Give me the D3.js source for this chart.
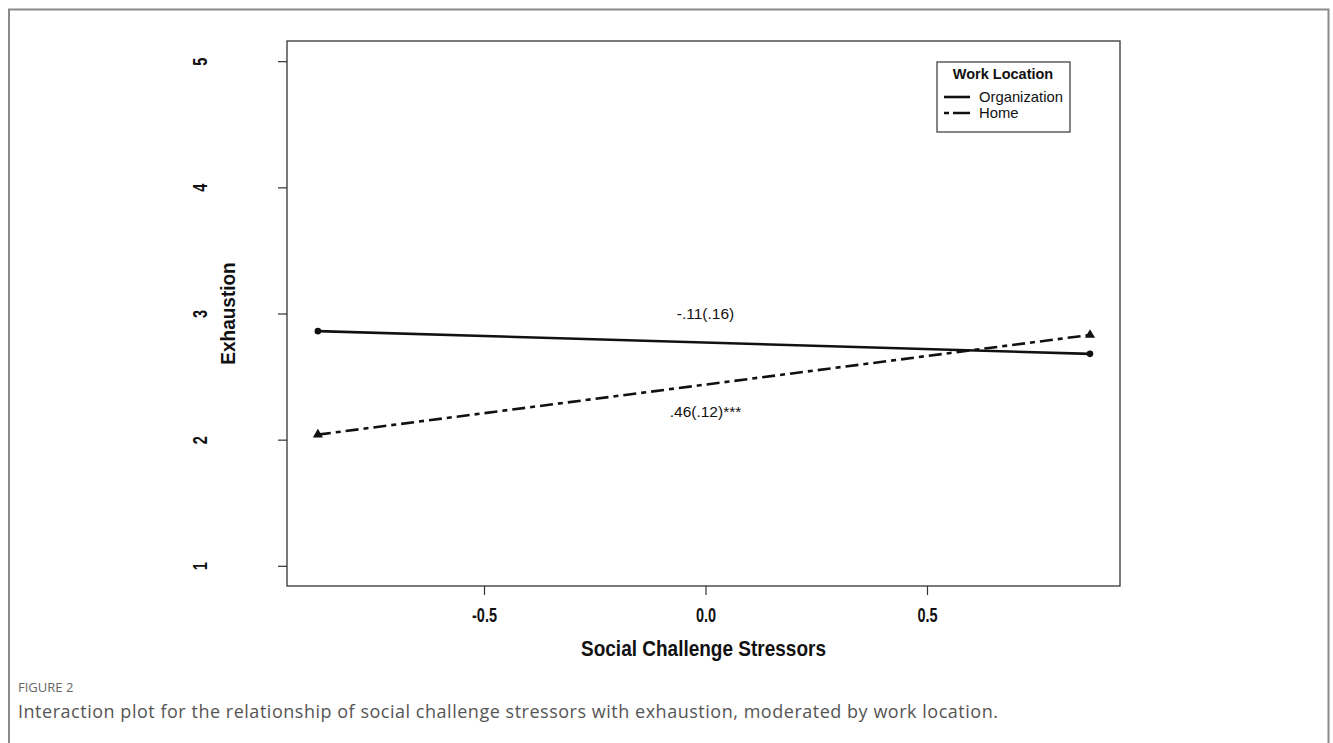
<!DOCTYPE html>
<html>
<head>
<meta charset="utf-8">
<script src="https://cdn.jsdelivr.net/npm/d3@7"></script>
<style>
  body { margin: 0; background: #fff; }
  svg { display: block; }
</style>
</head>
<body>
<svg id="chart" width="1333" height="743"></svg>
<script>
// data
var groups = ["Organization", "Home"];
var stressorLevels = [-0.875, 0.868];
var orgValues = [2.86, 2.68];
var homeValues = [2.04, 2.83];
var slopeLabels = ["-.11(.16)", ".46(.12)***"];
var xTicks = [-0.5, 0.0, 0.5];
var xTickLabels = ["-0.5", "0.0", "0.5"];
var yTicks = [1, 2, 3, 4, 5];

var svg = d3.select("#chart");
var font = "'Liberation Sans', Arial, sans-serif";
var capFont = "'Open Sans', 'Noto Sans', sans-serif";

// outer figure frame
svg.append("path")
    .attr("d", "M9,743 L9,9.5 L1328.5,9.5 L1328.5,743")
    .attr("fill", "none")
    .attr("stroke", "#8a8a8a")
    .attr("stroke-width", 2);

var box = { left: 287, right: 1120, top: 41, bottom: 586 };

var x = d3.scaleLinear()
    .domain([-0.9447, 0.9357])
    .range([box.left, box.right]);

var y = d3.scaleLinear()
    .domain([0.84, 5.16])
    .range([box.bottom, box.top]);

// plot box
svg.append("rect")
    .attr("x", box.left).attr("y", box.top)
    .attr("width", box.right - box.left)
    .attr("height", box.bottom - box.top)
    .attr("fill", "none")
    .attr("stroke", "#333")
    .attr("stroke-width", 1.3);

// x axis (the source image is a bit stretched vertically, so labels get a taller scale)
var xAxis = svg.append("g")
    .attr("transform", "translate(0," + box.bottom + ")")
    .call(d3.axisBottom(x).tickValues(xTicks)
        .tickFormat(function (d, i) { return xTickLabels[i]; })
        .tickSize(9));
xAxis.select(".domain").remove();
xAxis.selectAll("line").attr("stroke", "#333").attr("stroke-width", 1.2);
xAxis.selectAll("text")
    .attr("y", null).attr("dy", null)
    .attr("transform", "translate(0,36) scale(1,1.35)")
    .attr("font-family", font)
    .attr("font-size", 14.5)
    .attr("font-weight", "bold")
    .attr("fill", "#111");

// y axis
var yAxis = svg.append("g")
    .attr("transform", "translate(" + box.left + ",0)")
    .call(d3.axisLeft(y).tickValues(yTicks).tickFormat(d3.format("d")).tickSize(9));
yAxis.select(".domain").remove();
yAxis.selectAll("line").attr("stroke", "#333").attr("stroke-width", 1.2);
yAxis.selectAll("text")
    .attr("x", null).attr("dy", null)
    .attr("transform", "translate(-80,0) rotate(-90) scale(1,1.35)")
    .attr("text-anchor", "middle")
    .attr("dominant-baseline", "auto")
    .attr("font-family", font)
    .attr("font-size", 14.5)
    .attr("font-weight", "bold")
    .attr("fill", "#111");

// axis titles
svg.append("text")
    .attr("transform", "translate(" + (box.left + box.right) / 2 + ",656) scale(1,1.15)")
    .attr("text-anchor", "middle")
    .attr("font-family", font)
    .attr("font-size", 19)
    .attr("font-weight", "bold")
    .attr("fill", "#111")
    .text("Social Challenge Stressors");

svg.append("text")
    .attr("transform", "translate(235," + y(3) + ") rotate(-90) scale(1,1.1)")
    .attr("text-anchor", "middle")
    .attr("font-family", font)
    .attr("font-size", 19)
    .attr("font-weight", "bold")
    .attr("fill", "#111")
    .text("Exhaustion");

// series
var series = [
    { name: groups[0], values: orgValues, dash: null, marker: "circle" },
    { name: groups[1], values: homeValues, dash: "13,5,5,5", marker: "triangle" }
];

var line = d3.line()
    .x(function (d, i) { return x(stressorLevels[i]); })
    .y(function (d) { return y(d); });

series.forEach(function (s) {
    svg.append("path")
        .datum(s.values)
        .attr("d", line)
        .attr("fill", "none")
        .attr("stroke", "#111")
        .attr("stroke-width", 2.6)
        .attr("stroke-dasharray", s.dash);

    var sym = s.marker === "circle" ? d3.symbolCircle : d3.symbolTriangle;
    svg.selectAll(null)
        .data(s.values)
        .enter().append("path")
        .attr("d", d3.symbol().type(sym).size(s.marker === "circle" ? 34 : 44))
        .attr("transform", function (d, i) { return "translate(" + x(stressorLevels[i]) + "," + y(d) + ")"; })
        .attr("fill", "#111");
});

// slope annotations
svg.append("text")
    .attr("x", x(0)).attr("y", y(3.0) + 5)
    .attr("text-anchor", "middle")
    .attr("font-family", font).attr("font-size", 15.5).attr("fill", "#111")
    .text(slopeLabels[0]);
svg.append("text")
    .attr("x", x(0)).attr("y", y(2.22) + 5)
    .attr("text-anchor", "middle")
    .attr("font-family", font).attr("font-size", 15.5).attr("fill", "#111")
    .text(slopeLabels[1]);

// legend
var legend = svg.append("g").attr("transform", "translate(937,62)");
legend.append("rect")
    .attr("width", 133).attr("height", 70)
    .attr("fill", "#fff")
    .attr("stroke", "#444")
    .attr("stroke-width", 1.3);
legend.append("text")
    .attr("x", 66).attr("y", 17)
    .attr("text-anchor", "middle")
    .attr("font-family", font).attr("font-size", 14.5).attr("font-weight", "bold").attr("fill", "#111")
    .text("Work Location");
series.forEach(function (s, i) {
    var ly = 35 + i * 16;
    legend.append("line")
        .attr("x1", 7).attr("x2", 33)
        .attr("y1", ly).attr("y2", ly)
        .attr("stroke", "#111").attr("stroke-width", 2.6)
        .attr("stroke-dasharray", s.dash ? "5,4,17" : null);
    legend.append("text")
        .attr("x", 42).attr("y", ly + 5)
        .attr("font-family", font).attr("font-size", 14.8).attr("fill", "#111")
        .text(s.name);
});

// caption
svg.append("text")
    .attr("x", 18).attr("y", 692)
    .attr("font-family", capFont)
    .attr("font-size", 13)
    .attr("fill", "#666")
    .text("FIGURE 2");
svg.append("text")
    .attr("x", 18).attr("y", 718)
    .attr("font-family", capFont)
    .attr("font-size", 18)
    .attr("textLength", 980)
    .attr("lengthAdjust", "spacing")
    .attr("fill", "#555")
    .text("Interaction plot for the relationship of social challenge stressors with exhaustion, moderated by work location.");
</script>
</body>
</html>
